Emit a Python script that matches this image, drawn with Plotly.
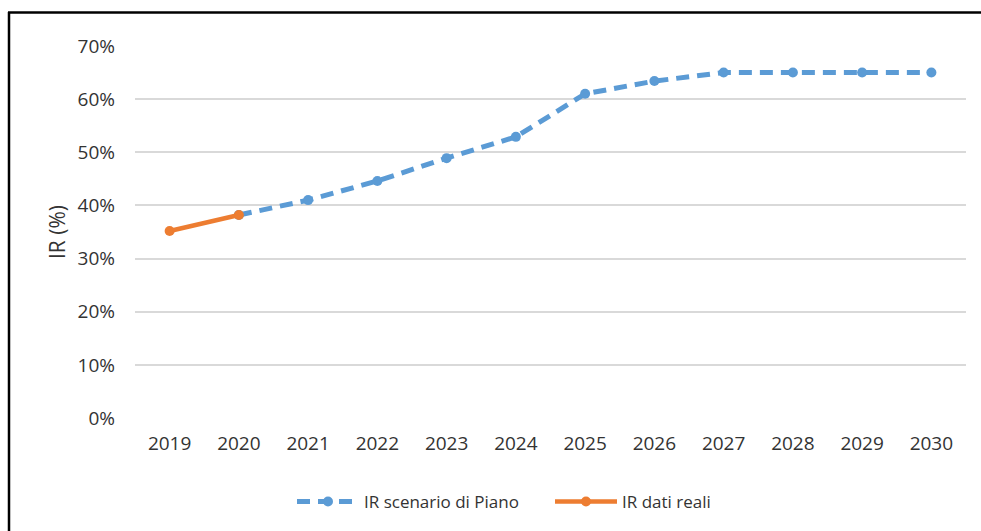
import plotly.graph_objects as go

years = ["2019", "2020", "2021", "2022", "2023", "2024", "2025", "2026", "2027", "2028", "2029", "2030"]
scenario_years = years[1:]
scenario_values = [0.382, 0.410, 0.446, 0.489, 0.529, 0.610, 0.634, 0.650, 0.650, 0.650, 0.650]
real_years = ["2019", "2020"]
real_values = [0.352, 0.382]
y_ticks = [0, 0.1, 0.2, 0.3, 0.4, 0.5, 0.6, 0.7]

W, H = 981, 531
L, R, T, B = 135, 15, 46, 113
pw, ph = W - L - R, H - T - B

def px_x(x):
    return (x - L) / pw

def px_y(y):
    return (H - B - y) / ph

FONT = "Open Sans"
TXT = "#333333"

fig = go.Figure()
fig.add_trace(go.Scatter(
    x=scenario_years, y=scenario_values, name="IR scenario di Piano",
    mode="lines+markers",
    line=dict(color="#5B9BD5", width=5, dash="13px,8px"),
    marker=dict(color="#5B9BD5", size=10, symbol="circle"),
))
fig.add_trace(go.Scatter(
    x=real_years, y=real_values, name="IR dati reali",
    mode="lines+markers",
    line=dict(color="#ED7D31", width=4.5),
    marker=dict(color="#ED7D31", size=10, symbol="circle"),
))

fig.update_layout(
    width=W, height=H,
    margin=dict(l=L, r=R, t=T, b=B, autoexpand=False),
    paper_bgcolor="white", plot_bgcolor="white",
    font=dict(family=FONT, color=TXT, size=19),
    showlegend=True,
    legend=dict(orientation="h", x=px_x(292), xanchor="left", y=px_y(502), yanchor="middle",
                font=dict(size=17, color=TXT), itemwidth=62, traceorder="normal",
                tracegroupgap=0, entrywidth=181, entrywidthmode="pixels"),
    xaxis=dict(type="category", categoryorder="array", categoryarray=years,
               range=[-0.5, 11.5], showgrid=False, zeroline=False, showline=False,
               ticks="", tickfont=dict(size=19, color=TXT), ticklabelstandoff=12),
    yaxis=dict(range=[0, 0.7], tickvals=y_ticks, tickformat=".0%",
               showgrid=True, gridcolor="#d9d9d9", gridwidth=1.5, zeroline=False,
               showline=False, ticks="", tickfont=dict(size=19, color=TXT),
               ticklabelstandoff=19,
               title=dict(text="IR (%)", font=dict(size=21, color=TXT), standoff=6)),
    shapes=[
        dict(type="line", xref="paper", yref="paper", x0=px_x(9), x1=px_x(9),
             y0=px_y(12), y1=px_y(535), line=dict(color="black", width=2.5)),
        dict(type="line", xref="paper", yref="paper", x0=px_x(8), x1=px_x(985),
             y0=px_y(12.5), y1=px_y(12.5), line=dict(color="black", width=2.5)),
    ],
)

fig.write_html("out.html", config={"displayModeBar": False},
               post_script="document.body.style.margin='0';document.body.style.overflow='hidden';")
